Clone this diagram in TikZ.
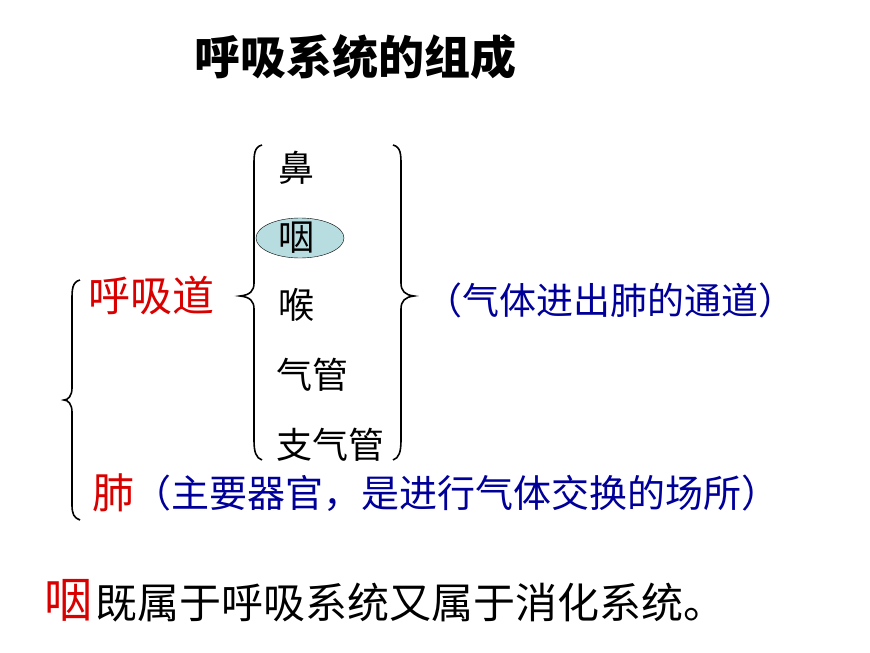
\documentclass[tikz,border=0pt]{standalone}
\usepackage{fontspec}
\usetikzlibrary{shapes.geometric}
\newfontfamily\cjk{Noto Sans CJK SC}
\definecolor{elfill}{HTML}{B7DDE0}
\begin{document}
\begin{tikzpicture}[x=1pt,y=-1pt,
  br/.style={line width=1.6pt,black},
  t/.style={inner sep=0pt,anchor=west,font=\cjk\fontsize{36}{36}\selectfont}]
\useasboundingbox (0,0) rectangle (870,653);
\node[font=\cjk\bfseries\fontsize{46}{46}\selectfont,inner sep=0] (title) at (355,57) {呼吸系统的组成};
% big left brace
\draw[br] (80,280) .. controls (72,282) and (72,290) .. (72,300) -- (72,388) .. controls (72,396) and (68,400) .. (64,400)
  .. controls (68,400) and (72,404) .. (72,412) -- (72,505) .. controls (72,514) and (74,518) .. (80,520);
% middle left brace
\draw[br] (262,145) .. controls (254,147) and (254,155) .. (254,165) -- (254,283) .. controls (254,291) and (250,295) .. (240,296)
  .. controls (250,297) and (254,301) .. (254,309) -- (254,440) .. controls (254,452) and (256,458) .. (262,460);
% right brace
\draw[br] (393,145) .. controls (401,147) and (401,155) .. (401,165) -- (401,283) .. controls (401,291) and (405,295) .. (414,296)
  .. controls (405,297) and (401,301) .. (401,309) -- (401,440) .. controls (401,452) and (399,458) .. (393,460);
\node[draw=black,fill=elfill,ellipse,minimum width=88pt,minimum height=40pt,inner sep=0] (el) at (300,238) {};
\node[t,text=red!85!black,font=\cjk\fontsize{42}{42}\selectfont] (hxd) at (88,295) {呼吸道};
\node[t] (bi) at (278,168) {鼻};
\node[t] (yan) at (278,238) {咽};
\node[t] (hou) at (278,305) {喉};
\node[t] (qg) at (276,375) {气管};
\node[t] (zqg) at (276,445) {支气管};
\node[t,text=blue!60!black,font=\cjk\fontsize{37}{37}\selectfont] (td) at (425,300) {（气体进出肺的通道）};
\node[t,text=red!85!black,font=\cjk\fontsize{42}{42}\selectfont] (fei) at (92,493) {肺};
\node[t,text=blue!60!black,font=\cjk\fontsize{38}{38}\selectfont] (fd) at (133,493) {（主要器官，是进行气体交换的场所）};
\node[t,text=red!85!black,font=\cjk\fontsize{48}{48}\selectfont] (yan2) at (44,600) {咽};
\node[t,font=\cjk\fontsize{42}{42}\selectfont] (note) at (95,603) {既属于呼吸系统又属于消化系统。};
\end{tikzpicture}
\end{document}
